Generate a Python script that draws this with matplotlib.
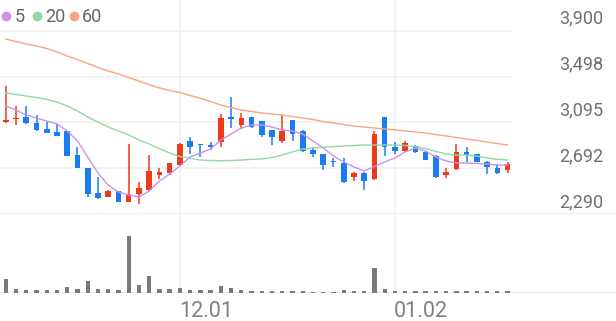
import numpy as np
import matplotlib
matplotlib.use("Agg")
import matplotlib.pyplot as plt
from matplotlib.lines import Line2D

plt.rcParams['font.family'] = ['Roboto', 'DejaVu Sans']

# daily candles (KRW)
opens = [3102, 3122, 3139, 3092, 3034, 3010, 3019, 2808, 2691, 2472,
         2442, 2492, 2398, 2463, 2501, 2633, 2653, 2720, 2934, 2905,
         2890, 2925, 3138, 3069, 3138, 3107, 3028, 2934, 3116, 3022,
         2852, 2817, 2751, 2741, 2612, 2648, 2595, 3145, 2876, 2846,
         2887, 2837, 2799, 2633, 2683, 2837, 2817, 2749, 2691, 2677]
highs = [3414, 3239, 3239, 3160, 3101, 3081, 3022, 2876, 2694, 2618,
         2501, 2496, 2905, 2571, 2808, 2691, 2738, 2916, 2964, 2909,
         2925, 3166, 3320, 3177, 3142, 3111, 3032, 3160, 3120, 3025,
         2881, 2821, 2779, 2779, 2662, 2662, 3022, 3146, 2925, 2934,
         2892, 2841, 2804, 2691, 2905, 2876, 2820, 2753, 2729, 2749]
lows = [3089, 3072, 3081, 3022, 3001, 2975, 2799, 2690, 2442, 2422,
        2439, 2395, 2395, 2378, 2495, 2595, 2633, 2712, 2817, 2793,
        2852, 2876, 3043, 3037, 3045, 2969, 2896, 2916, 2931, 2837,
        2793, 2677, 2700, 2565, 2583, 2501, 2593, 2799, 2817, 2837,
        2823, 2762, 2604, 2604, 2677, 2749, 2747, 2641, 2645, 2653]
closes = [3111, 3131, 3087, 3028, 3004, 2978, 2802, 2691, 2466, 2428,
          2495, 2398, 2466, 2516, 2670, 2656, 2735, 2905, 2876, 2899,
          2885, 3136, 3131, 3133, 3057, 2984, 2964, 3022, 2993, 2846,
          2817, 2720, 2747, 2574, 2648, 2583, 2993, 2876, 2846, 2911,
          2837, 2764, 2612, 2662, 2837, 2808, 2749, 2700, 2648, 2729]
# volume, thousand shares
volume = [143, 43, 27, 27, 27, 27, 60, 43, 120, 37,
          37, 33, 570, 77, 170, 37, 37, 53, 27, 27,
          27, 70, 47, 27, 20, 20, 20, 17, 17, 17,
          10, 10, 10, 33, 17, 20, 250, 37, 23, 17,
          17, 17, 23, 17, 23, 17, 17, 17, 20, 17]

# moving averages as drawn
ma5 = [3239, 3203, 3160, 3133, 3107, 3081, 3019, 2931, 2791, 2650,
       2545, 2483, 2457, 2439, 2492, 2580, 2641, 2712, 2791, 2826,
       2861, 2940, 2993, 3045, 3072, 3072, 3054, 3028, 3019, 2993,
       2931, 2870, 2799, 2747, 2703, 2668, 2707, 2747, 2782, 2835,
       2870, 2843, 2791, 2756, 2738, 2738, 2734, 2729, 2720, 2720]
ma20 = [3353, 3340, 3326, 3313, 3296, 3274, 3239, 3195, 3142, 3098,
        3054, 3019, 2984, 2940, 2905, 2865, 2826, 2795, 2779, 2764,
        2760, 2758, 2760, 2764, 2770, 2773, 2786, 2808, 2835, 2861,
        2870, 2876, 2883, 2887, 2892, 2896, 2896, 2896, 2896, 2892,
        2883, 2865, 2839, 2817, 2808, 2808, 2799, 2782, 2770, 2764]
ma60 = [3827, 3805, 3783, 3766, 3744, 3713, 3678, 3647, 3612, 3577,
        3546, 3520, 3489, 3458, 3427, 3397, 3375, 3357, 3331, 3306,
        3278, 3247, 3225, 3203, 3190, 3177, 3168, 3160, 3146, 3133,
        3120, 3102, 3089, 3076, 3063, 3054, 3045, 3037, 3028, 3019,
        3010, 3001, 2988, 2975, 2962, 2949, 2936, 2922, 2909, 2896]
ma_names = ['5', '20', '60']

price_ticks = [3900, 3497.5, 3095, 2692.5, 2290]
price_labels = ['3,900', '3,498', '3,095', '2,692', '2,290']
date_idx = [17, 38]
date_labels = ['12.01', '01.02']

UP = '#ec3a1b'
DOWN = '#1a7cf0'
MA_COLORS = ['#cc90f0', '#90d9a3', '#f9a57d']
GRID = '#f1f1f1'

# ---- layout in pixels ----
W, H = 616, 321
x0, step = 5.8, 10.24          # first candle centre, candle spacing
price_top, price_bot = 30.7, 214   # pixel rows of 3,900 and 2,290
vol_bot = 293

fig = plt.figure(figsize=(W / 100, H / 100), dpi=100)
ax = fig.add_axes([0, 1 - price_bot / H, 1, price_bot / H])
axv = fig.add_axes([0, 1 - vol_bot / H, 1, (vol_bot - price_bot) / H])

xlim = (-x0 / step, (W - x0) / step)
for a in (ax, axv):
    a.set_xlim(*xlim)
    a.axis('off')

lo, hi = price_ticks[-1], price_ticks[0]
ax.set_ylim(lo, hi + (hi - lo) * price_top / (price_bot - price_top))

x = np.arange(len(closes))
o = np.array(opens)
c = np.array(closes)
colors = np.where(c >= o, UP, DOWN)

# grid
grid_end = (512 - x0) / step
ax.hlines(price_ticks[:-1], xlim[0], grid_end, color=GRID, lw=1.2, zorder=0)
ax.axhline(lo, color='#ebebeb', lw=2, zorder=0)
for d in date_idx:
    ax.axvline(d, color=GRID, lw=1.2, zorder=0)
    axv.axvline(d, color=GRID, lw=1.2, zorder=0)

# candles
ax.vlines(x, lows, highs, colors=colors, lw=1.1, zorder=2)
body_h = np.maximum(np.abs(c - o), 12)
body_mid = (o + c) / 2
ax.bar(x, body_h, bottom=body_mid - body_h / 2, width=0.55, color=colors,
       lw=0, zorder=2)

for ma, col in zip([ma5, ma20, ma60], MA_COLORS):
    ax.plot(x, ma, color=col, lw=1.0, zorder=3)

# price labels sit above their grid line
for v, lbl in zip(price_ticks, price_labels):
    ax.annotate(lbl, xy=(1, v), xycoords=('axes fraction', 'data'),
                xytext=(-13, 7), textcoords='offset pixels',
                ha='right', va='baseline', fontsize=13, color='#707070',
                annotation_clip=False)

# volume
axv.axhline(0, color='#e6e6e6', lw=1.8, zorder=1)
axv.bar(x, volume, width=0.42, color='#7a7a7a', lw=0, zorder=2)
axv.set_ylim(0, max(volume) * (vol_bot - price_bot) / 57)

for d, lbl in zip(date_idx, date_labels):
    axv.annotate(lbl, xy=(d, 0), xytext=(-1, -23.7), textcoords='offset pixels',
                 ha='left', va='baseline', fontsize=15.5, color='#808080',
                 annotation_clip=False)

# legend
for (cx, tx), name, col in zip([(6, 15), (37.3, 45.5), (74, 82.3)], ma_names, MA_COLORS):
    fig.add_artist(Line2D([cx / W], [1 - 15.8 / H], marker='o', ms=6,
                          color=col, lw=0, transform=fig.transFigure))
    fig.text(tx / W, 1 - 21.7 / H, name, ha='left', va='baseline',
             fontsize=13, color='#666666')

fig.savefig('out.png', dpi=100)
